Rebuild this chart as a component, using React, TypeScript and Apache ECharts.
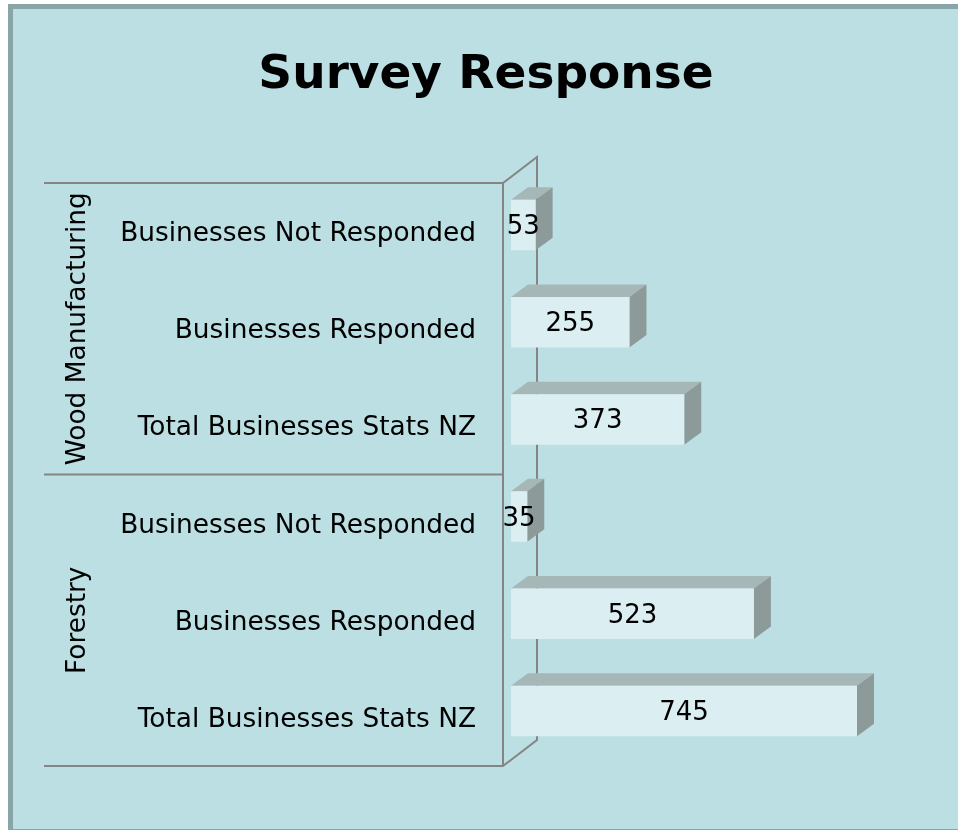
import React, { useEffect, useRef } from "react";
import * as echarts from "echarts";

const title = "Survey Response";
const groups = ["Wood Manufacturing", "Forestry"];
const subCategories = [
  "Businesses Not Responded",
  "Businesses Responded",
  "Total Businesses Stats NZ",
];
const woodValues = [53, 255, 373];
const forestryValues = [35, 523, 745];

const FONT = "'DejaVu Sans', Verdana, sans-serif";
const FS = 26.4;

export default function App() {
  const ref = useRef<HTMLDivElement>(null);
  useEffect(() => {
    if (!ref.current) return;
    const chart = echarts.init(ref.current, undefined, { renderer: "svg" });

    const categories: string[] = [];
    const data: number[][] = [];
    const groupValues = [woodValues, forestryValues];
    groups.forEach((g, gi) => {
      subCategories.forEach((s, si) => {
        categories.push(g + "|" + s);
        data.push([groupValues[gi][si], categories.length - 1]);
      });
    });

    const W = 958, H = 830;
    const gridLeft = 503, gridTop = 183, gridBottom = 64, gridRight = 37;
    const gridBottomY = H - gridBottom;
    const gridH = gridBottomY - gridTop;
    const wallDx = 34, wallDy = -26;
    const lineColor = "#858585";
    const n = categories.length;

    const graphics: any[] = [
      { type: "rect", z: -10, shape: { x: 8, y: 4, width: W - 8, height: H - 4 }, style: { fill: "#8aa5a8" } },
      { type: "rect", z: -9, shape: { x: 13, y: 9, width: W - 13, height: 820 }, style: { fill: "#bbdfe2" } },
      {
        type: "polyline", z: -5,
        shape: { points: [[gridLeft, gridTop], [gridLeft + wallDx, gridTop + wallDy], [gridLeft + wallDx, gridBottomY + wallDy], [gridLeft, gridBottomY]] },
        style: { stroke: lineColor, lineWidth: 2, fill: null },
      },
      {
        type: "text", z: 5,
        style: { text: title, x: 486, y: 71, align: "center", verticalAlign: "middle", font: `bold 47px 'DejaVu Sans', sans-serif`, fill: "#000" },
      },
    ];
    let start = 0;
    groups.forEach((g, gi) => {
      const count = subCategories.length;
      const yStart = gridTop + (gridH * start) / n;
      const yEnd = gridTop + (gridH * (start + count)) / n;
      if (gi === 0) {
        graphics.push({ type: "line", z: -5, shape: { x1: 44, y1: yStart, x2: gridLeft, y2: yStart }, style: { stroke: lineColor, lineWidth: 2 } });
      }
      graphics.push({ type: "line", z: -5, shape: { x1: 44, y1: yEnd, x2: gridLeft, y2: yEnd }, style: { stroke: lineColor, lineWidth: 2 } });
      graphics.push({
        type: "text", z: 5, x: 75, y: (yStart + yEnd) / 2, rotation: Math.PI / 2,
        style: { text: g, x: 0, y: 0, align: "center", verticalAlign: "middle", fontSize: FS, fontFamily: FONT, fill: "#000" },
      });
      start += count;
    });

    chart.setOption({
      animation: false,
      graphic: graphics,
      grid: { left: gridLeft, top: gridTop, right: gridRight, bottom: gridBottom },
      xAxis: { type: "value", min: 0, max: 900, show: false },
      yAxis: {
        type: "category",
        data: categories,
        inverse: true,
        axisLine: { show: true, lineStyle: { color: lineColor, width: 2 } },
        axisTick: { show: false },
        splitLine: { show: false },
        axisLabel: {
          margin: 27,
          fontSize: FS,
          fontFamily: FONT,
          color: "#000",
          formatter: (v: string) => v.split("|")[1],
        },
      },
      series: [
        {
          type: "custom",
          encode: { x: 0, y: 1 },
          data,
          renderItem: (params: any, api: any) => {
            const val = api.value(0);
            const cat = api.value(1);
            const p0 = api.coord([0, cat]);
            const p1 = api.coord([val, cat]);
            const band = api.size([0, 1])[1];
            const h = band * 0.52;
            const offX = 8, offY = -6.5;
            const dx = 17, dy = -12.5;
            const x0 = p0[0] + offX, x1 = p1[0] + offX;
            const cy = p0[1] + offY;
            const yT = cy - h / 2, yB = cy + h / 2;
            return {
              type: "group",
              children: [
                { type: "polygon", shape: { points: [[x0, yT], [x1, yT], [x1 + dx, yT + dy], [x0 + dx, yT + dy]] }, style: { fill: "#a5b7b7" } },
                { type: "polygon", shape: { points: [[x1, yT], [x1 + dx, yT + dy], [x1 + dx, yB + dy], [x1, yB]] }, style: { fill: "#8c9a9a" } },
                { type: "rect", shape: { x: x0, y: yT, width: x1 - x0, height: h }, style: { fill: "#dbeef1" } },
                { type: "text", style: { text: String(val), x: (x0 + x1) / 2, y: cy, align: "center", verticalAlign: "middle", fontSize: 26, fontFamily: FONT, fill: "#000" } },
              ],
            };
          },
        },
      ],
    });
    return () => chart.dispose();
  }, []);
  return <div ref={ref} style={{ position: "fixed", left: 0, top: 0, width: 958, height: 830 }} />;
}
